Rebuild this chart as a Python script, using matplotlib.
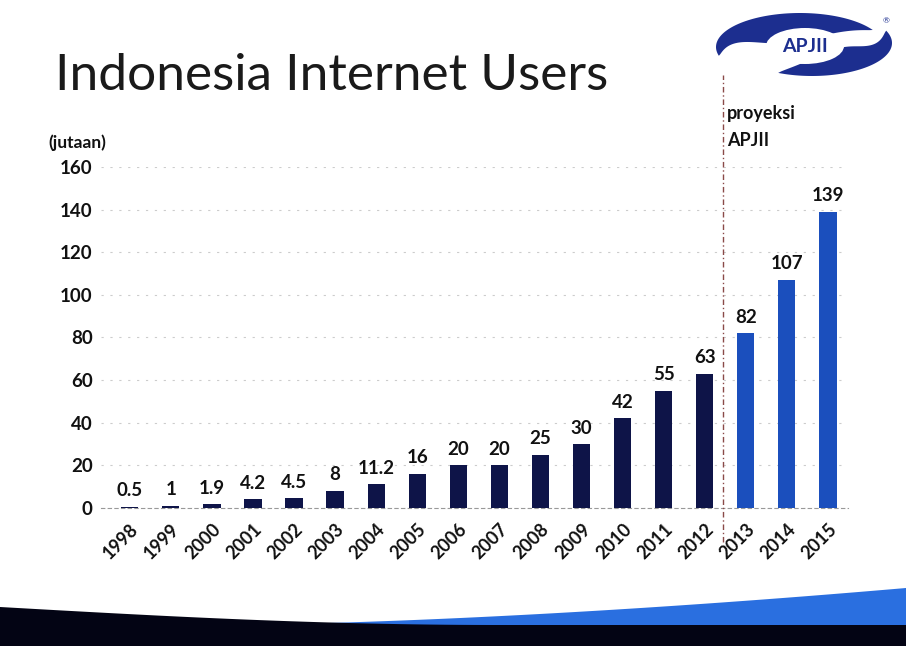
import matplotlib.pyplot as plt
import numpy as np
from matplotlib.patches import Ellipse, Polygon

plt.rcParams["font.family"] = ["Lato", "DejaVu Sans"]

years = ["1998", "1999", "2000", "2001", "2002", "2003", "2004", "2005", "2006",
         "2007", "2008", "2009", "2010", "2011", "2012", "2013", "2014", "2015"]
users = [0.5, 1, 1.9, 4.2, 4.5, 8, 11.2, 16, 20, 20, 25, 30, 42, 55, 63, 82, 107, 139]
value_labels = ["0.5", "1", "1.9", "4.2", "4.5", "8", "11.2", "16", "20", "20",
                "25", "30", "42", "55", "63", "82", "107", "139"]
projected = [False] * 15 + [True] * 3
y_ticks = [0, 20, 40, 60, 80, 100, 120, 140, 160]

DARK = "#0e1448"
PROJ = "#1b4fbd"
LOGO = "#1c2e8f"
TXT = "#111111"


def swoosh(cx, cy, a, b, t0, t1, thick):
    # tapered crescent along an ellipse arc (pixel coords, y down)
    t = np.radians(np.linspace(t0, t1, 80))
    w = thick * np.sin(np.linspace(0, np.pi, 80)) ** 0.8
    outer = np.column_stack([cx + a * np.cos(t), cy - b * np.sin(t)])
    inner = np.column_stack([cx + (a - w) * np.cos(t), cy - (b - w) * np.sin(t)])
    return Polygon(np.vstack([outer, inner[::-1]]), closed=True, facecolor=LOGO,
                   edgecolor="none")


fig = plt.figure(figsize=(9.06, 6.46), dpi=100)
fig.patch.set_facecolor("white")

# background layer in pixel coords for slide decorations
bg = fig.add_axes([0, 0, 1, 1], zorder=0)
bg.set_xlim(0, 906)
bg.set_ylim(646, 0)
bg.axis("off")

# bottom band: blue swoosh + black band
xs = np.linspace(0, 906, 60)
blue_top = 625 - 37 * ((xs - 217).clip(0) / (906 - 217)) ** 1.6
bg.add_patch(Polygon(np.column_stack([np.r_[xs, 906, 0], np.r_[blue_top, 646, 646]]),
                     closed=True, facecolor="#2a6fe0", edgecolor="none"))
black_top = 607 + 18 * np.sin(np.clip(xs / 500, 0, 1) * np.pi / 2)
bg.add_patch(Polygon(np.column_stack([np.r_[xs, 906, 0], np.r_[black_top, 646, 646]]),
                     closed=True, facecolor="#030414", edgecolor="none"))

# logo
bg.add_patch(swoosh(800, 47, 84, 34, 195, 30, 30))
bg.add_patch(swoosh(812, 43, 80, 33, 245, 382, 28))
bg.add_patch(Ellipse((805, 46), 78, 36, facecolor="white", edgecolor="none"))
bg.text(805, 46, "APJII", ha="center", va="center", fontsize=14, fontweight="bold",
        color=LOGO)
bg.text(886, 21, "®", ha="center", va="center", fontsize=6, color=LOGO)

# title and notes
bg.text(55, 76, "Indonesia Internet Users", ha="left", va="center", fontsize=37,
        color="#1a1a1a")
bg.text(48, 143, "(jutaan)", ha="left", va="center", fontsize=12.5,
        fontweight="bold", color=TXT)
bg.text(727, 113, "proyeksi", ha="left", va="center", fontsize=13,
        fontweight="bold", color=TXT)
bg.text(727, 140, "APJII", ha="left", va="center", fontsize=13,
        fontweight="bold", color=TXT)

# chart
ax = fig.add_axes([0.1115, 0.2136, 0.825, 0.528], zorder=2)
ax.patch.set_alpha(0)
x = np.arange(len(years))
colors = [PROJ if p else DARK for p in projected]
ax.bar(x, users, width=0.42, color=colors, zorder=3)

for xi, v, lab in zip(x, users, value_labels):
    ax.text(xi, v + 3.5, lab, ha="center", va="bottom", fontsize=13.5,
            fontweight="bold", color=TXT)

ax.set_xlim(-0.7, 17.5)
ax.set_ylim(0, 160)
ax.set_yticks(y_ticks)
ax.set_yticklabels([str(t) for t in y_ticks], fontsize=13.5, fontweight="bold",
                   color=TXT)
ax.set_xticks(x)
ax.set_xticklabels(years, rotation=45, ha="right", va="top", rotation_mode="anchor",
                   fontsize=13, fontweight="bold", color=TXT)
ax.tick_params(axis="both", length=0, pad=6)
ax.tick_params(axis="x", pad=9)
ax.grid(axis="y", color="#cccccc", linestyle=(0, (2, 6)), linewidth=0.8, zorder=0)
for s in ["top", "right", "left"]:
    ax.spines[s].set_visible(False)
ax.spines["bottom"].set_color("#999999")
ax.spines["bottom"].set_linestyle((0, (3, 3)))

# projection divider
ax.axvline(14.45, ymin=-0.1, ymax=1.27, color="#8a4a48", linestyle=(0, (4, 2, 1, 2)),
           linewidth=1, clip_on=False, zorder=4)

fig.savefig("out.png", dpi=100)
